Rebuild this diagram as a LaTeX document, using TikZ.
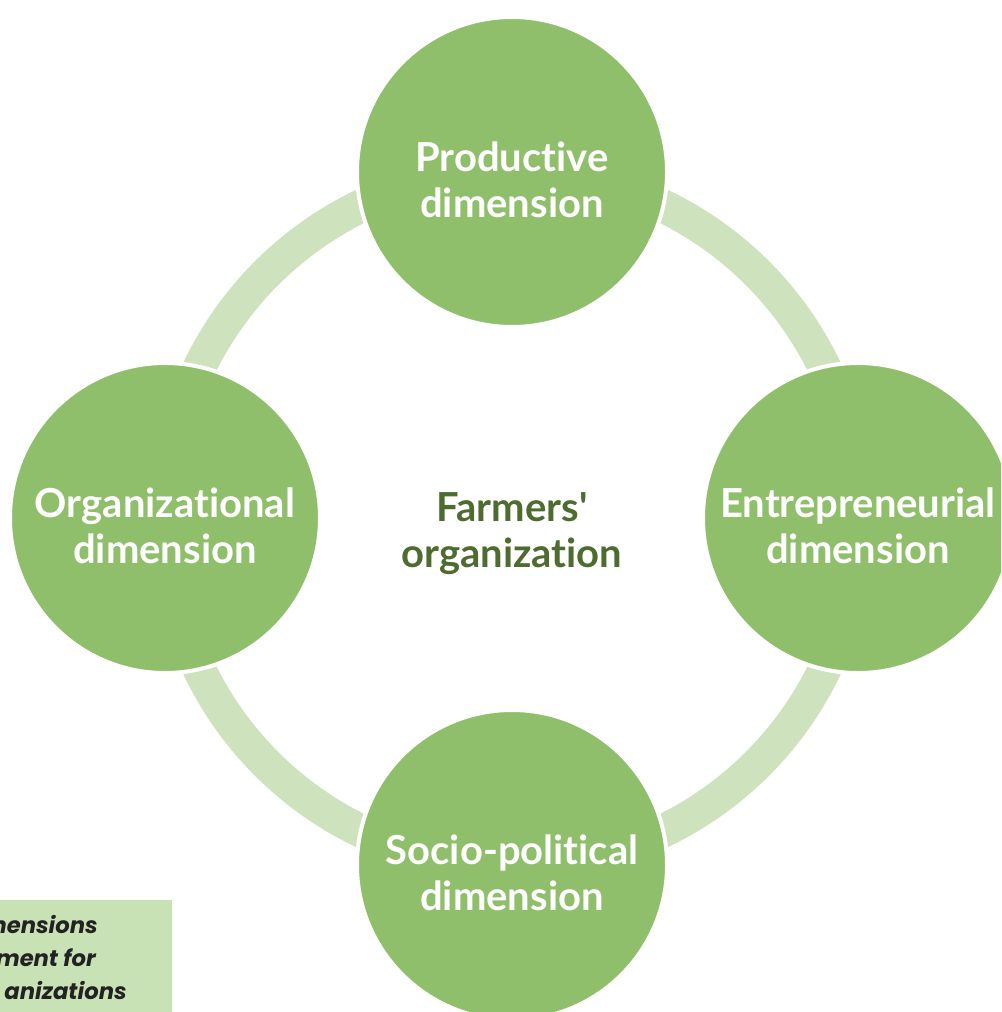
\documentclass[tikz,border=0pt]{standalone}
\usepackage{fontspec}
\setmainfont{Lato}[Ligatures={NoCommon}]
\newfontfamily\boxfont{Poppins}
\definecolor{circfill}{HTML}{8FBF6A}
\definecolor{ringcol}{HTML}{CEE3BD}
\definecolor{boxcol}{HTML}{C9E2B5}
\definecolor{centertext}{HTML}{4E6B30}
\definecolor{boxtext}{HTML}{222222}
\begin{document}
\begin{tikzpicture}[x=0.75pt,y=-0.75pt,
  dimcircle/.style={circle, fill=circfill, draw=white, line width=3pt,
    minimum size=310*0.75pt, inner sep=0pt, align=center, text=white,
    font=\fontsize{30}{34.5}\selectfont\bfseries},
  dimlabel/.style={align=center, text=white, inner sep=0pt,
    font=\fontsize{30}{34.5}\selectfont\bfseries},
  centerlabel/.style={align=center, text=centertext, inner sep=0pt,
    font=\fontsize{30}{34.5}\selectfont\bfseries},
  boxline/.style={anchor=base east, inner sep=0pt, text=boxtext,
    font=\boxfont\fontsize{17}{20}\selectfont\bfseries\itshape}]
\useasboundingbox (0,0) rectangle (1001,1012);
\begin{scope}
\clip (0,0) rectangle (1001,1012);
% ring
\coordinate (c) at (512,518.5);
\draw[ringcol, line width=25pt] (c) circle[radius=347*0.75pt];
% caption box
\fill[boxcol] (-5,900) rectangle (172,1015);
\node[boxline] (b1) at (98,933) {mensions};
\node[boxline] (b2) at (96,966) {ment for};
\node[boxline] (b3) at (127,999) {anizations};
% circles
\node[dimcircle] (top) at (512,172) {};
\node[dimcircle] (left) at (165,518) {};
\node[dimcircle] (right) at (858,518) {};
\node[dimcircle] (bottom) at (512,865) {};
\node[dimlabel] (toplabel) at ([yshift=-8*0.75pt]top.center) {Productive\\dimension};
\node[dimlabel] (leftlabel) at ([yshift=-8*0.75pt]left.center) {Organizational\\dimension};
\node[dimlabel] (rightlabel) at ([yshift=-8*0.75pt]right.center) {Entrepreneurial\\dimension};
\node[dimlabel] (bottomlabel) at ([yshift=-8*0.75pt]bottom.center) {Socio-political\\dimension};
\node[centerlabel] (center) at (512,534) {Farmers\textquotesingle\\organization};
\end{scope}
\end{tikzpicture}
\end{document}
